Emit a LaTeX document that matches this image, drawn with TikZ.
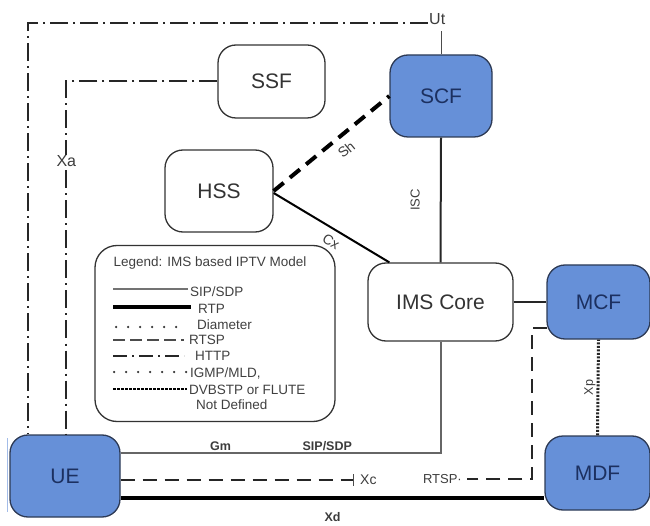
\documentclass[tikz,border=0pt]{standalone}
\usepackage{fontspec}
\setmainfont{Liberation Sans}
\usetikzlibrary{calc}
\definecolor{fnblue}{RGB}{102,144,216}
\definecolor{fnedge}{RGB}{45,58,85}
\definecolor{fntext}{RGB}{28,48,96}
\definecolor{lblgrey}{RGB}{60,60,60}

\begin{document}
\begin{tikzpicture}[x=1pt,y=-1pt,
  whitefn/.style={draw=black!80, line width=1.3pt, rounded corners=18pt, fill=white,
    text=black!80, font=\fontsize{21}{24}\selectfont, inner sep=0pt},
  bluefn/.style={whitefn, fill=fnblue, draw=fnedge, text=fntext},
  legendbox/.style={draw=black!80, line width=1.3pt, rounded corners=22pt},
  lbl/.style={text=lblgrey, inner sep=1pt},
  legtext/.style={text=black!75, font=\fontsize{13.5}{15}\selectfont, anchor=west, inner sep=0pt},
  httpline/.style={draw=black!85, line width=2pt, dash pattern=on 18pt off 5pt on 2pt off 5pt},
  shline/.style={draw=black, line width=4pt, dash pattern=on 13pt off 8pt},
  solidline/.style={draw=black!85, line width=2pt},
  sipline/.style={draw=black!60, line width=2pt},
  rtspline/.style={draw=black!85, line width=2pt, dash pattern=on 14pt off 8pt},
  rtpline/.style={draw=black, line width=4.5pt},
  xpline/.style={draw=black!85, line width=3pt, dash pattern=on 2pt off 1.5pt},
  legsip/.style={draw=black!55, line width=2pt},
  legrtp/.style={draw=black, line width=4pt},
  legdot/.style={draw=black!80, line width=2.5pt, line cap=round, dash pattern=on 0pt off 12pt},
  legrtsp/.style={draw=black!70, line width=1.5pt, dash pattern=on 12pt off 5pt},
  leghttp/.style={draw=black!85, line width=1.5pt, dash pattern=on 14pt off 5pt on 2pt off 5pt},
  legdvb/.style={draw=black, line width=2pt, dash pattern=on 2.5pt off 1.5pt},
]
\useasboundingbox (0,0) rectangle (650,526);

% functional entities
\node[whitefn, minimum width=107pt, minimum height=73pt] (SSF) at (271.5,81.5) {SSF};
\node[bluefn,  minimum width=102pt, minimum height=82pt] (SCF) at (441,96) {SCF};
\node[whitefn, minimum width=108pt, minimum height=82pt] (HSS) at (219,191) {HSS};
\node[whitefn, minimum width=145pt, minimum height=78pt] (IMS) at (440.5,302) {IMS Core};
\node[bluefn,  minimum width=103pt, minimum height=74pt] (MCF) at (598.5,302) {MCF};
\node[bluefn,  minimum width=110pt, minimum height=82pt] (UE)  at (65,476) {UE};
\node[bluefn,  minimum width=105pt, minimum height=74pt] (MDF) at (597.5,473) {MDF};

% thin edge mark beside UE
\draw[draw=fnblue!60, line width=0.8pt] (7,438) -- (7,512);

% Ut reference point and HTTP paths
\node[lbl, anchor=west, font=\fontsize{16}{18}\selectfont] (Ut) at (428,19) {Ut};
\draw[httpline] ($(Ut.west)+(0,4)$) -| ($(UE.north west)+(19,0)$);
\draw[draw=black!70, line width=1pt, shorten >=5pt] (SCF.north) -- (SCF.north |- Ut.south);
\draw[httpline] (SSF.west) -| node[pos=0.613, lbl, fill=white, font=\fontsize{16}{18}\selectfont] {Xa}
  ($(UE.north west)+(57,0)$);

% Sh, Cx, ISC
\draw[shline] (HSS.east) -- node[pos=0.55, sloped, below=6pt, lbl, font=\fontsize{14}{16}\selectfont] {Sh} (SCF.west);
\draw[solidline, draw=black] ($(HSS.east)+(0,2)$) -- node[pos=0.55, sloped, below=5pt, lbl, font=\fontsize{14}{16}\selectfont] {Cx}
  ($(IMS.north west)+(22,0)$);
\draw[solidline] (IMS.north) -- node[midway, sloped, above=19pt, lbl, font=\fontsize{13}{15}\selectfont] {ISC} (SCF.south);

% IMS Core to MCF
\draw[draw=black!85, line width=1.5pt] (IMS.east) -- (MCF.west);

% Gm (SIP/SDP)
\draw[sipline] ($(UE.east)+(0,-23)$) -|
  node[pos=0.156, above, lbl, font=\bfseries\fontsize{12.5}{14}\selectfont] {Gm}
  node[pos=0.323, above, lbl, font=\bfseries\fontsize{12.5}{14}\selectfont] {SIP/SDP}
  (IMS.south);

% Xc (RTSP)
\coordinate (xc) at (353,480);
\draw[rtspline] ($(UE.east)+(0,4)$) -- (xc);
\draw[draw=black!70, line width=1pt] ($(xc)+(0,-6)$) -- ($(xc)+(0,6)$);
\node[lbl, anchor=west, font=\fontsize{14}{16}\selectfont] at ($(xc)+(6,0)$) {Xc};

% RTSP from MCF
\coordinate (rtspend) at (467,479);
\draw[rtspline] ($(MCF.west)+(1,26)$) -- ++(-15,0) |- (rtspend);
\node[lbl, anchor=east, font=\fontsize{13}{15}\selectfont] at ($(rtspend)+(-4,0)$) {RTSP·};

% Xd (RTP)
\draw[rtpline] ($(UE.east)+(0,22)$) -- node[midway, below=11pt, lbl, font=\bfseries\fontsize{12.5}{14}\selectfont] {Xd}
  ($(MDF.west)+(0,25)$);

% Xp (DVBSTP or FLUTE)
\draw[xpline] (MDF.north) -- node[midway, sloped, above, lbl, font=\fontsize{12.5}{14}\selectfont] {Xp} (MCF.south);

% legend
\node[legendbox, minimum width=240pt, minimum height=176pt] (legend) at (215,333.5) {};
\node[text=black!75, font=\fontsize{13.5}{15}\selectfont, inner sep=0pt] (legtitle) at (210,263) {Legend: IMS based IPTV Model};

\draw[legsip]  (113,289) -- (188,289);
\node[legtext] at (190,292) {SIP/SDP};
\draw[legrtp]  (113,307) -- (191,307);
\node[legtext] at (198,309) {RTP};
\draw[legdot]  (116,327) -- (182,327);
\node[legtext] at (197,325) {Diameter};
\draw[legrtsp] (113,340) -- (184,340);
\node[legtext] at (189,340) {RTSP};
\draw[leghttp] (113,356) -- (184,356);
\node[legtext] at (195,356) {HTTP};
\draw[legdot]  (114,372) -- (186,372);
\node[legtext] at (190,373) {IGMP/MLD,};
\draw[legdvb]  (113,389) -- (187,389);
\node[legtext] at (189,390) {DVBSTP or FLUTE};
\node[legtext] at (196,405) {Not Defined};
\end{tikzpicture}
\end{document}
